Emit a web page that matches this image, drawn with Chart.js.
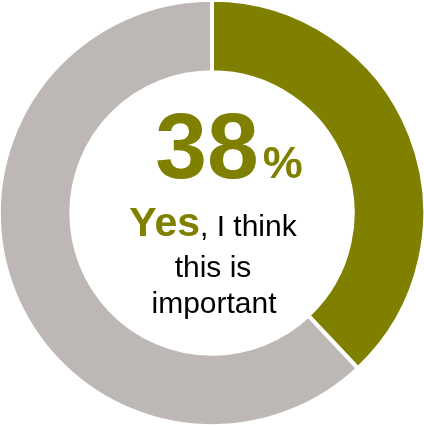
<!DOCTYPE html>
<html>
<head>
<meta charset="utf-8">
<script src="https://cdn.jsdelivr.net/npm/chart.js@4"></script>
<style>
  html, body { margin: 0; padding: 0; background: #fff; }
  #c { display: block; }
</style>
</head>
<body>
<canvas id="c" width="424" height="426"></canvas>
<script>
const labels = ['Yes', 'No'];
const values = [38, 62];
const colors = ['#808000', '#BDB8B6'];
const bigNumber = '38';
const lineOne = ['Yes', ', I think'];
const restLines = ['this is', 'important'];

const FONT = '"Liberation Sans", Arial, sans-serif';

const centerText = {
  id: 'centerText',
  afterDraw(chart) {
    const ctx = chart.ctx;
    const meta = chart.getDatasetMeta(0).data[0];
    const cx = meta.x;
    const cy = meta.y;
    ctx.save();
    ctx.textBaseline = 'alphabetic';
    ctx.textAlign = 'left';

    // big percentage
    ctx.fillStyle = colors[0];
    ctx.font = 'bold 93px ' + FONT;
    const wNum = ctx.measureText(bigNumber).width;
    ctx.font = 'bold 45px ' + FONT;
    const wPct = ctx.measureText('%').width;
    const gap = 4;
    let x = cx + 17 - (wNum + gap + wPct) / 2;
    ctx.font = 'bold 93px ' + FONT;
    ctx.fillText(bigNumber, x, cy - 35);
    ctx.font = 'bold 45px ' + FONT;
    ctx.fillText('%', x + wNum + gap, cy - 35);

    // first line: bold coloured "Yes" + normal text
    ctx.font = 'bold 41px ' + FONT;
    const wYes = ctx.measureText(lineOne[0]).width;
    ctx.font = '30px ' + FONT;
    const wRest = ctx.measureText(lineOne[1]).width;
    x = cx + 1 - (wYes + wRest) / 2;
    ctx.font = 'bold 41px ' + FONT;
    ctx.fillStyle = colors[0];
    ctx.fillText(lineOne[0], x, cy + 23);
    ctx.font = '30px ' + FONT;
    ctx.fillStyle = '#000';
    ctx.fillText(lineOne[1], x + wYes, cy + 23);

    ctx.textAlign = 'center';
    ctx.fillText(restLines[0], cx + 1, cy + 64);
    ctx.fillText(restLines[1], cx + 2, cy + 100);
    ctx.restore();
  }
};

new Chart(document.getElementById('c'), {
  type: 'doughnut',
  data: {
    labels: labels,
    datasets: [{
      data: values,
      backgroundColor: colors,
      borderColor: '#ffffff',
      borderWidth: 4,
      hoverOffset: 0
    }]
  },
  options: {
    responsive: false,
    animation: false,
    cutout: '66%',
    radius: '101.5%',
    layout: { padding: 0 },
    plugins: {
      legend: { display: false },
      tooltip: { enabled: false }
    }
  },
  plugins: [centerText]
});
</script>
</body>
</html>
